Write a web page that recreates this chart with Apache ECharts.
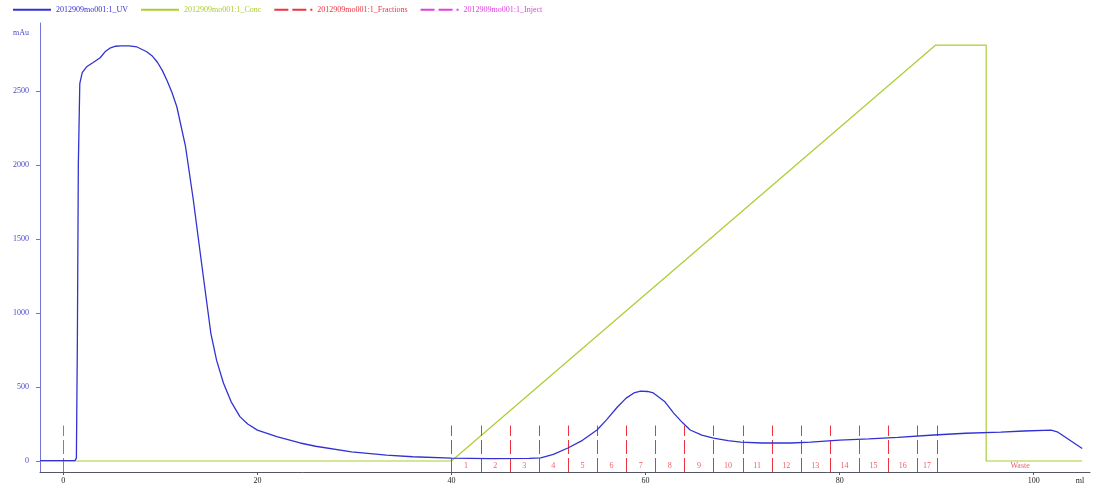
<!DOCTYPE html>
<html>
<head>
<meta charset="utf-8">
<title>2012909mo001 run</title>
<script src="https://cdn.jsdelivr.net/npm/echarts@6/dist/echarts.min.js"></script>
</head>
<body style="margin:0">
<div id="main" style="width:1098px;height:488px;"></div>
<script type="text/javascript">
// UV trace: [ml, mAu]
var uvPoints = [
  [-2.4, 3], [0, 3], [1.2, 3], [1.35, 20], [1.45, 800], [1.55, 2000], [1.7, 2550],
  [1.95, 2625], [2.4, 2664], [3.0, 2690], [3.8, 2725], [4.3, 2765], [4.8, 2790],
  [5.4, 2803], [5.9, 2806], [6.8, 2805], [7.6, 2798], [8.6, 2766], [9.2, 2735],
  [9.7, 2695], [10.2, 2640], [10.7, 2570], [11.2, 2490], [11.7, 2394], [12.6, 2124],
  [13.4, 1764], [14.3, 1311], [15.2, 865], [15.8, 680], [16.5, 527], [17.3, 400],
  [18.2, 300], [19, 250], [20, 209], [22, 165], [24.4, 122], [26, 100], [29.7, 62],
  [33.3, 40], [36, 29], [40, 20], [44, 17], [48, 18], [49.2, 22], [50.5, 45],
  [52, 88], [53.5, 140], [55, 210], [56, 280], [57.1, 365], [58, 425], [58.8, 460],
  [59.5, 473], [60.2, 470], [60.8, 460], [62, 400], [62.9, 324], [63.8, 260],
  [64.6, 210], [65.8, 175], [67, 155], [68.5, 138], [69.8, 128], [72, 122],
  [75, 122], [77, 128], [80, 142], [83, 150], [86, 160], [89.7, 176], [93, 188],
  [96.6, 196], [99, 203], [101.8, 209], [102.5, 195], [105, 85]
];
// gradient: [ml, %B]
var concPoints = [[-2.4, 0], [40, 0], [89.9, 100], [95.1, 100], [95.1, 0], [105, 0]];
// fraction boundaries (ml) and names
var fractionEdges = [40, 43, 46, 49, 52, 55, 58, 61, 64, 67, 70, 73, 76, 79, 82, 85, 88, 90];
var fractionNames = ['1', '2', '3', '4', '5', '6', '7', '8', '9', '10', '11', '12', '13', '14', '15', '16', '17'];
var wasteName = ['Waste'];
var wasteAt = [98.6];
var injectAt = [0];
var xTicks = [0, 20, 40, 60, 80, 100];
var yTicks = [0, 500, 1000, 1500, 2000, 2500];
var seriesNames = ['2012909mo001:1_UV', '2012909mo001:1_Conc', '2012909mo001:1_Fractions', '2012909mo001:1_Inject'];

var UV_MIN = -74, UV_MAX = 2960, UNIT_AT = 2892;
var MARK_TOP = 240, LABEL_ROW = -34;
var BLUE = '#3232d2', GREEN = '#aacd32', RED = '#ee3340', PINK = '#e040e0';
var FONT = 'Liberation Serif';

var fractionLabels = fractionNames.map(function (n, i) {
  return { name: n, value: [(fractionEdges[i] + fractionEdges[i + 1]) / 2, LABEL_ROW] };
});
wasteName.forEach(function (n, i) {
  fractionLabels.push({ name: n, value: [wasteAt[i], LABEL_ROW] });
});

// vertical dashed marker, drawn bottom-up so the dash starts at the axis
function markerRenderer(color) {
  return function (params, api) {
    var p0 = api.coord([api.value(0), UV_MIN]);
    var p1 = api.coord([api.value(0), MARK_TOP]);
    var x = Math.round(p0[0]) + 0.5;
    return {
      type: 'line',
      shape: { x1: x, y1: p0[1], x2: x, y2: p1[1] },
      style: { stroke: color, lineWidth: 1, lineDash: [14, 4] },
      silent: true
    };
  };
}

var myChart = echarts.init(document.getElementById('main'));
myChart.setOption({
  animation: false,
  backgroundColor: '#fff',
  legend: {
    left: 12, top: 5, padding: 0, itemWidth: 38, itemHeight: 12, itemGap: 12,
    itemStyle: { opacity: 0 },
    textStyle: { fontSize: 8, fontFamily: FONT },
    data: [
      { name: seriesNames[0], textStyle: { color: BLUE } },
      { name: seriesNames[1], textStyle: { color: GREEN } },
      { name: seriesNames[2], textStyle: { color: RED } },
      { name: seriesNames[3], textStyle: { color: PINK } }
    ]
  },
  grid: { left: 40, right: 8, top: 23, bottom: 16 },
  xAxis: {
    type: 'value', min: -2.4, max: 105.8,
    name: 'ml', nameLocation: 'end', nameGap: -10,
    nameTextStyle: { fontSize: 8, fontFamily: FONT, color: '#222', align: 'center', verticalAlign: 'top', padding: [5, 0, 0, 0] },
    axisLine: { onZero: false, lineStyle: { color: '#555566', width: 1 } },
    axisTick: { customValues: xTicks, length: 3, lineStyle: { color: '#555566' } },
    axisLabel: { customValues: xTicks, fontSize: 8, fontFamily: FONT, color: '#222', margin: 5 },
    splitLine: { show: false }
  },
  yAxis: [{
    type: 'value', min: UV_MIN, max: UV_MAX,
    axisLine: { show: true, onZero: false, lineStyle: { color: '#7474d0', width: 1 } },
    axisTick: { show: true, customValues: yTicks, length: 4, lineStyle: { color: '#7474d0' } },
    axisLabel: {
      customValues: yTicks.concat([UNIT_AT]), fontSize: 8, fontFamily: FONT, color: '#4a4ac4', margin: 11,
      formatter: function (v) { return v === UNIT_AT ? 'mAu' : v; }
    },
    splitLine: { show: false }
  }, {
    type: 'value', min: -2.64, max: 105.3, show: false, splitLine: { show: false }
  }],
  series: [{
    name: seriesNames[1], type: 'line', yAxisIndex: 1, data: concPoints,
    symbol: 'none', z: 2,
    lineStyle: { color: GREEN, width: 1.2 }, itemStyle: { color: GREEN }
  }, {
    // legend entries only
    name: seriesNames[2], type: 'line', data: [], symbol: 'none',
    lineStyle: { color: RED, width: 1, type: [14, 4] }, itemStyle: { color: RED }
  }, {
    name: seriesNames[3], type: 'line', data: [], symbol: 'none',
    lineStyle: { color: PINK, width: 1, type: [14, 4] }, itemStyle: { color: PINK }
  }, {
    name: 'fraction marks', type: 'custom', z: 3,
    data: fractionEdges.map(function (x) { return [x]; }),
    renderItem: markerRenderer(RED)
  }, {
    name: 'inject marks', type: 'custom', z: 3,
    data: injectAt.map(function (x) { return [x]; }),
    renderItem: markerRenderer(PINK)
  }, {
    name: seriesNames[0], type: 'line', data: uvPoints, symbol: 'none', z: 5,
    lineStyle: { color: BLUE, width: 1.3 }, itemStyle: { color: BLUE }
  }, {
    name: 'fraction names', type: 'scatter', data: fractionLabels, symbolSize: 0, silent: true,
    label: { show: true, position: 'inside', formatter: '{b}', color: RED, fontSize: 8, fontFamily: FONT }
  }]
});
</script>
</body>
</html>
